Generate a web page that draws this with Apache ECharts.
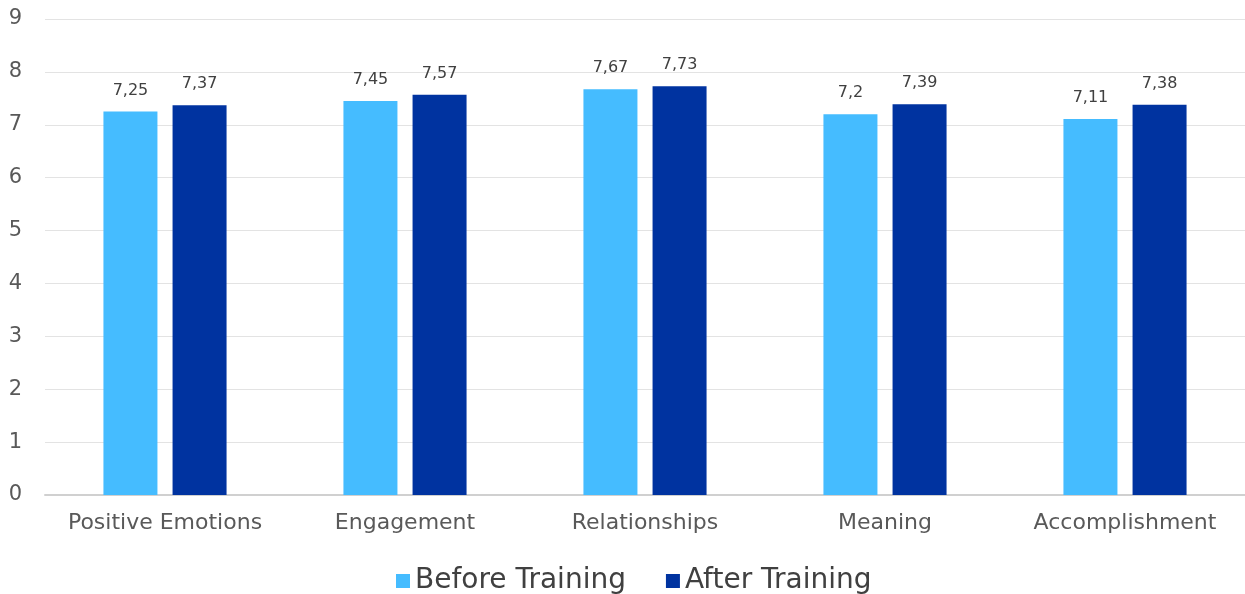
<!DOCTYPE html>
<html>
<head>
<meta charset="utf-8">
<script src="https://cdn.jsdelivr.net/npm/echarts@6/dist/echarts.min.js"></script>
<style>
  html, body { margin: 0; padding: 0; background: #fff; }
  #chart { width: 1245px; height: 594px; }
</style>
</head>
<body>
<div id="chart"></div>
<script>
const categories = ['Positive Emotions', 'Engagement', 'Relationships', 'Meaning', 'Accomplishment']
const before = [7.25, 7.45, 7.67, 7.2, 7.11]
const after = [7.37, 7.57, 7.73, 7.39, 7.38]
const seriesNames = ['Before Training', 'After Training']

const font = 'DejaVu Sans'
const fmt = p => String(p.value).replace('.', ',')

let myChart = echarts.init(document.getElementById('chart'))
myChart.setOption({
  animation: false,
  color: ['#45BCFF', '#0033A0'],
  textStyle: { fontFamily: font },
  legend: {
    bottom: -6,
    left: 391,
    itemWidth: 14,
    itemHeight: 14,
    itemGap: 40,
    icon: 'rect',
    data: seriesNames,
    textStyle: { color: '#404040', fontSize: 28, fontFamily: font },
  },
  grid: {
    left: 45,
    right: 0,
    top: 19,
    bottom: 99,
  },
  xAxis: {
    type: 'category',
    data: categories,
    axisTick: { show: false },
    axisLine: { lineStyle: { color: '#d0d0d0', width: 2 } },
    axisLabel: { color: '#595959', fontSize: 22, margin: 17, interval: 0, fontFamily: font },
  },
  yAxis: {
    type: 'value',
    min: 0,
    max: 9,
    interval: 1,
    axisLabel: { color: '#595959', fontSize: 21, margin: 23, fontFamily: font },
    splitLine: { lineStyle: { color: '#e3e3e3', width: 1 } },
  },
  series: [
    {
      name: seriesNames[0],
      type: 'bar',
      data: before,
      barWidth: 54,
      barGap: '28%',
      label: { show: true, position: 'top', distance: 13, color: '#404040', fontSize: 16, formatter: fmt },
    },
    {
      name: seriesNames[1],
      type: 'bar',
      data: after,
      barWidth: 54,
      label: { show: true, position: 'top', distance: 13, color: '#404040', fontSize: 16, formatter: fmt },
    },
  ],
})
</script>
</body>
</html>
